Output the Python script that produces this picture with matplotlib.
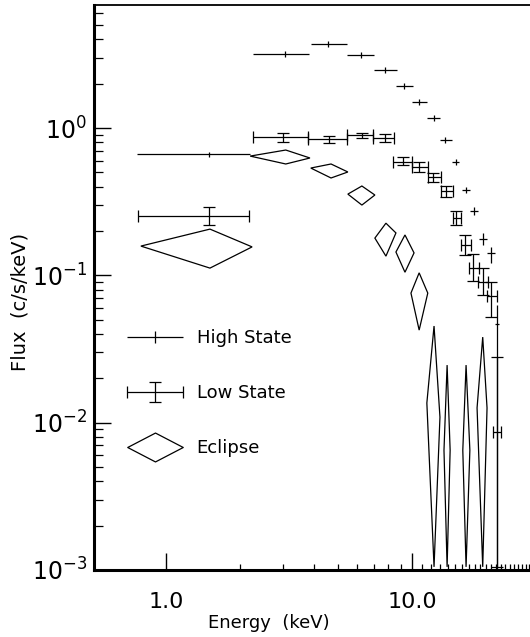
import numpy as np
import matplotlib
matplotlib.use("Agg")
import matplotlib.pyplot as plt
from matplotlib.patches import Polygon
from matplotlib.lines import Line2D
from matplotlib.path import Path
from matplotlib.ticker import FixedLocator, FixedFormatter, LogLocator
from matplotlib.legend_handler import HandlerErrorbar

# High state (keV, c/s/keV)
hs_e = [1.50, 3.05, 4.56, 6.21, 7.77, 9.28, 10.7, 12.3, 13.6, 15.1, 16.6, 17.9, 19.4, 20.9, 22.2]
hs_e_lo = [0.762, 2.26, 3.88, 5.44, 7.01, 8.61, 10.0, 11.5, 13.0, 14.5, 16.0, 17.2, 18.7, 20.2, 21.8]
hs_e_hi = [2.19, 3.81, 5.44, 7.01, 8.69, 10.1, 11.5, 13.0, 14.5, 15.6, 17.2, 18.6, 20.2, 21.7, 22.6]
hs_f = [0.666, 3.18, 3.72, 3.13, 2.48, 1.93, 1.50, 1.17, 0.829, 0.588, 0.380, 0.273, 0.176, 0.142, 0.0467]
hs_f_lo = [0.64, 3.05, 3.57, 3.00, 2.38, 1.85, 1.44, 1.11, 0.79, 0.56, 0.36, 0.255, 0.160, 0.121, 0.0001]
hs_f_hi = [0.69, 3.32, 3.88, 3.27, 2.59, 2.02, 1.57, 1.23, 0.87, 0.62, 0.40, 0.29, 0.193, 0.155, 0.063]

# Low state
ls_e = [1.50, 2.99, 4.60, 6.26, 7.77, 9.19, 10.7, 12.2, 13.7, 15.1, 16.4, 17.7, 19.4, 20.9, 22.2]
ls_e_lo = [0.769, 2.26, 3.78, 5.44, 6.94, 8.37, 10.0, 11.6, 13.1, 14.7, 15.8, 17.1, 18.6, 20.2, 21.3]
ls_e_hi = [2.17, 3.78, 5.44, 6.94, 8.45, 10.0, 11.6, 13.1, 14.7, 15.8, 17.4, 18.7, 20.4, 22.2, 23.0]
ls_f = [0.253, 0.869, 0.842, 0.897, 0.855, 0.588, 0.544, 0.465, 0.374, 0.245, 0.161, 0.112, 0.090, 0.0724, 0.0086]
ls_f_lo = [0.2196, 0.803, 0.791, 0.855, 0.803, 0.561, 0.503, 0.430, 0.340, 0.2196, 0.137, 0.0915, 0.0737, 0.0523, 0.00105]
ls_f_hi = [0.291, 0.925, 0.882, 0.925, 0.910, 0.636, 0.588, 0.495, 0.404, 0.273, 0.188, 0.140, 0.112, 0.090, 0.0279]

# Eclipse diamonds: left/right vertex = bin edges, top/bottom = flux range
ecl_e_lo = [0.791, 2.20, 3.88, 5.49, 7.07, 8.61, 9.91, 11.5, 13.5, 16.1, 18.4]
ecl_e_mid = [1.51, 3.07, 4.69, 6.26, 7.84, 9.37, 10.7, 12.3, 13.9, 16.6, 19.4]
ecl_e_hi = [2.24, 3.85, 5.49, 7.07, 8.61, 10.2, 11.6, 13.0, 14.3, 17.2, 20.2]
ecl_f_left = [0.158, 0.645, 0.535, 0.356, 0.179, 0.144, 0.0758, 0.0136, 0.0065, 0.0065, 0.0126]
ecl_f_right = [0.156, 0.626, 0.503, 0.351, 0.194, 0.142, 0.0758, 0.0109, 0.0065, 0.0065, 0.0126]
ecl_f_top = [0.206, 0.709, 0.570, 0.404, 0.226, 0.188, 0.104, 0.0453, 0.0246, 0.0246, 0.0381]
ecl_f_bot = [0.112, 0.570, 0.458, 0.300, 0.135, 0.105, 0.0425, 0.00105, 0.00105, 0.00105, 0.00105]

x_major = [1, 10]
x_major_labels = ["1.0", "10.0"]
x_minor = [2, 3, 4, 5, 6, 7, 8, 9] + list(range(11, 31))

plt.rcParams['font.family'] = ['DejaVu Sans']

fig = plt.figure(figsize=(5.3, 6.37), dpi=100)
ax = fig.add_axes([94 / 530, 67 / 637, 436 / 530, 565 / 637])
ax.set_xscale('log')
ax.set_yscale('log')
ax.set_xlim(0.51, 30.2)
ax.set_ylim(1e-3, 6.84)

hs_e = np.array(hs_e)
hs_f = np.array(hs_f)
hs = ax.errorbar(hs_e, hs_f,
                 xerr=[hs_e - np.array(hs_e_lo), np.array(hs_e_hi) - hs_e],
                 yerr=[hs_f - np.array(hs_f_lo), np.array(hs_f_hi) - hs_f],
                 fmt='none', ecolor='black', elinewidth=0.9, capsize=0,
                 label='High State')

ls_e = np.array(ls_e)
ls_f = np.array(ls_f)
ls = ax.errorbar(ls_e, ls_f,
                 xerr=[ls_e - np.array(ls_e_lo), np.array(ls_e_hi) - ls_e],
                 yerr=[ls_f - np.array(ls_f_lo), np.array(ls_f_hi) - ls_f],
                 fmt='none', ecolor='black', elinewidth=0.9, capsize=4,
                 capthick=0.9, label='Low State')

for i in range(len(ecl_e_mid)):
    verts = [(ecl_e_lo[i], ecl_f_left[i]), (ecl_e_mid[i], ecl_f_top[i]),
             (ecl_e_hi[i], ecl_f_right[i]), (ecl_e_mid[i], ecl_f_bot[i])]
    ax.add_patch(Polygon(verts, closed=True, fill=False, edgecolor='black', lw=0.9))

# legend
diamond = Path([(-1, 0), (0, 0.52), (1, 0), (0, -0.52), (-1, 0)],
               [Path.MOVETO, Path.LINETO, Path.LINETO, Path.LINETO, Path.CLOSEPOLY])
ecl_handle = Line2D([], [], linestyle='none', marker=diamond, markersize=40,
                    markerfacecolor='none', markeredgecolor='black', markeredgewidth=0.9)
ax.legend([hs, ls, ecl_handle], ['High State', 'Low State', 'Eclipse'],
          loc='upper left', bbox_to_anchor=(0.0757, 0.4265), frameon=False,
          fontsize=13, handlelength=3.1, handletextpad=0.75, labelspacing=2.05,
          borderpad=0, borderaxespad=0, numpoints=1,
          handler_map={hs: HandlerErrorbar(xerr_size=1.55, yerr_size=0.33),
                       ls: HandlerErrorbar(xerr_size=1.55, yerr_size=0.55)})

ax.xaxis.set_major_locator(FixedLocator(x_major))
ax.xaxis.set_major_formatter(FixedFormatter(x_major_labels))
ax.xaxis.set_minor_locator(FixedLocator(x_minor))
ax.xaxis.set_minor_formatter(FixedFormatter([]))
ax.yaxis.set_minor_locator(LogLocator(base=10, subs=np.arange(2, 10)))

ax.tick_params(axis='both', which='both', direction='in', top=False, right=False, color='black')
ax.tick_params(axis='y', which='major', length=12, width=1.0, labelsize=17, pad=5)
ax.tick_params(axis='y', which='minor', length=6.5, width=0.9)
ax.tick_params(axis='x', which='major', length=12, width=1.0, labelsize=16, pad=16)
ax.tick_params(axis='x', which='minor', length=4.5, width=0.9)

ax.spines['right'].set_visible(False)
ax.spines['left'].set_linewidth(2.2)
ax.spines['bottom'].set_linewidth(2.2)
ax.spines['top'].set_linewidth(1.3)

ax.set_xlabel('Energy  (keV)', fontsize=13)
ax.xaxis.set_label_coords(0.4, -0.078)
ax.set_ylabel('Flux  (c/s/keV)', fontsize=14)
ax.yaxis.set_label_coords(-0.149, 0.474)

fig.savefig('out.png', dpi=100)
